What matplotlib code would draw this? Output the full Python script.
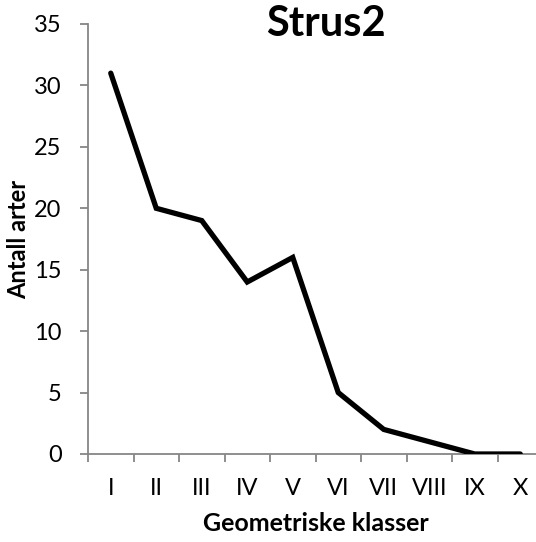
import matplotlib
matplotlib.use("Agg")
import matplotlib.pyplot as plt

plt.rcParams['font.family'] = ['Lato', 'DejaVu Sans']

klasser = ["I", "II", "III", "IV", "V", "VI", "VII", "VIII", "IX", "X"]
antall = [31, 20, 19, 14, 16, 5, 2, 1, 0, 0]
y_ticks = [0, 5, 10, 15, 20, 25, 30, 35]

axis_grey = "#868686"

fig = plt.figure(figsize=(5.36, 5.42), dpi=100)
ax = fig.add_axes([88 / 536, 88 / 542, 455 / 536, 430 / 542])

x = list(range(len(klasser)))
ax.plot(x, antall, color="black", linewidth=3.8, solid_joinstyle="miter",
        solid_capstyle="round", zorder=3)

ax.set_xlim(-0.5, len(klasser) - 0.5)
ax.set_ylim(0, 35)
ax.set_yticks(y_ticks)

# category labels sit between the boundary ticks
ax.set_xticks([i - 0.5 for i in range(len(klasser) + 1)])
ax.set_xticklabels([])
ax.set_xticks(x, minor=True)
ax.set_xticklabels(klasser, minor=True, fontsize=17)
ax.tick_params(axis="x", which="minor", length=0, pad=17)
ax.tick_params(axis="x", which="major", length=6, width=1.3, color=axis_grey,
               direction="out")
ax.tick_params(axis="y", length=6, width=1.3, color=axis_grey, labelsize=17,
               pad=13)

for side in ("top", "right"):
    ax.spines[side].set_visible(False)
for side in ("left", "bottom"):
    ax.spines[side].set_color(axis_grey)
    ax.spines[side].set_linewidth(1.3)

ax.text(0.523, 1.0, "Strus2", transform=ax.transAxes, ha="center",
        va="center", fontsize=30, fontweight="bold")

ax.set_xlabel("Geometriske klasser", fontsize=18, fontweight="bold")
ax.xaxis.set_label_coords(0.5, -0.135)
ax.set_ylabel("Antall arter", fontsize=17, fontweight="bold", va="center")
ax.yaxis.set_label_coords(-0.152, 0.498)

fig.savefig("out.png", dpi=100)
